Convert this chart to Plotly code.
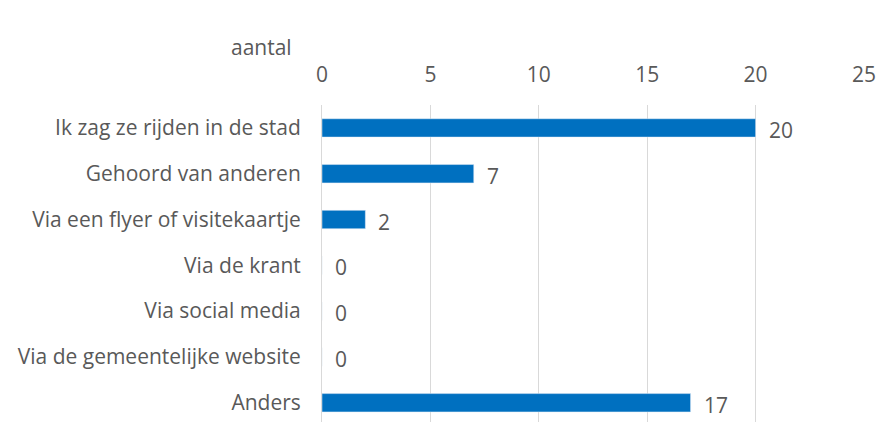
import plotly.graph_objects as go

categories = [
    "Ik zag ze rijden in de stad",
    "Gehoord van anderen",
    "Via een flyer of visitekaartje",
    "Via de krant",
    "Via social media",
    "Via de gemeentelijke website",
    "Anders",
]
values = [20, 7, 2, 0, 0, 0, 17]
tick_vals = [0, 5, 10, 15, 20, 25]

grey = "#595959"
font_name = "Open Sans"
fsize = 21

fig = go.Figure(go.Bar(
    x=values,
    y=categories,
    orientation="h",
    width=0.4,
    marker=dict(color="#0070C0"),
    hoverinfo="x+y",
))

# data labels, a bit away from the bar end
for cat, v in zip(categories, values):
    fig.add_annotation(
        x=v, y=cat, text=str(v),
        xanchor="left", yanchor="middle", xshift=11, yshift=-2,
        showarrow=False,
        font=dict(size=fsize, color=grey, family=font_name),
    )

fig.update_layout(
    width=879,
    height=422,
    margin=dict(l=322, r=15, t=105, b=0),
    plot_bgcolor="white",
    paper_bgcolor="white",
    showlegend=False,
    font=dict(family=font_name, color=grey, size=fsize),
    xaxis=dict(
        side="top",
        range=[0, 25],
        tickvals=tick_vals,
        showgrid=True,
        gridcolor="#D9D9D9",
        zeroline=False,
        showline=False,
        ticks="",
        automargin=False,
        ticklabelstandoff=18,
        tickfont=dict(size=fsize, color=grey),
    ),
    yaxis=dict(
        autorange=False,
        range=[6.42, -0.5],
        showgrid=False,
        showline=True,
        linecolor="#D9D9D9",
        ticks="",
        automargin=False,
        ticklabelstandoff=16,
        tickfont=dict(size=fsize, color=grey),
    ),
)

fig.add_annotation(
    text="aantal",
    xref="paper", yref="paper",
    x=-0.111, y=1.0, yshift=58,
    xanchor="center", yanchor="middle",
    showarrow=False,
    font=dict(size=fsize, color=grey, family=font_name),
)

# drop the default page margin so the chart fills the window
fig.write_html(
    "out.html",
    config={"displayModeBar": False},
    post_script="document.body.style.margin='0';document.body.style.overflow='hidden';",
)
